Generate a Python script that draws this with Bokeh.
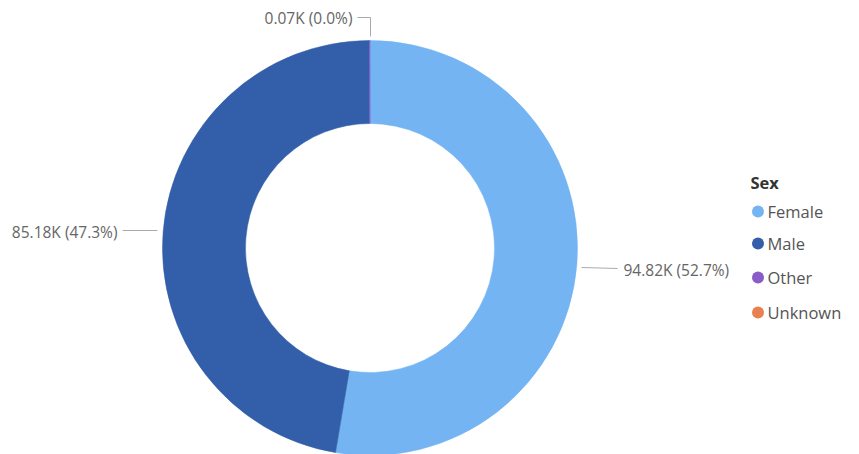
import math
from bokeh.plotting import figure
from bokeh.models import Range1d, ColumnDataSource
from bokeh.core.properties import value
from bokeh.embed import file_html
from bokeh.resources import INLINE

categories = ["Female", "Male", "Other", "Unknown"]
counts_k = [94.82, 85.18, 0.07, 0.0]
colors = ["#74B4F2", "#335FAA", "#8A5CC8", "#E8804F"]
legend_title = "Sex"

W, H = 859, 454
p = figure(width=W, height=H, output_backend="svg", toolbar_location=None,
           x_range=Range1d(0, W), y_range=Range1d(0, H),
           min_border=0, outline_line_color=None)
p.axis.visible = False
p.grid.visible = False
p.background_fill_color = "white"
p.border_fill_color = "white"

def Y(py):  # page pixel y -> data y
    return H - py

cx, cy = 369.5, Y(247.5)
r_out, r_in = 207.5, 124.5

total = sum(counts_k)
starts, ends, cols = [], [], []
acc = 0.0
for v, c in zip(counts_k, colors):
    a0 = math.pi / 2 - 2 * math.pi * acc / total
    acc += v
    a1 = math.pi / 2 - 2 * math.pi * acc / total
    if v > 0:
        starts.append(a0); ends.append(a1); cols.append(c)

src = ColumnDataSource(dict(start=starts, end=ends, color=cols))
p.annular_wedge(x=cx, y=cy, inner_radius=r_in, outer_radius=r_out,
                start_angle="start", end_angle="end", direction="clock",
                fill_color="color", line_color="color", line_width=0.5, source=src)

def lab(v):
    return f"{v:.2f}K ({100 * v / total:.1f}%)"

lab_color = "#666666"
font = value("Open Sans")
fs = "15.5px"
# Female (right)
p.line([581, 617], [Y(267), Y(268)], line_color="#AAAAAA", line_width=1)
p.text([623], [Y(269)], text=[lab(counts_k[0])], text_font=font, text_font_size=fs,
       text_color=lab_color, text_baseline="middle", text_align="left")
# Male (left)
p.line([157, 122], [Y(230), Y(230)], line_color="#AAAAAA", line_width=1)
p.text([117], [Y(231)], text=[lab(counts_k[1])], text_font=font, text_font_size=fs,
       text_color=lab_color, text_baseline="middle", text_align="right")
# Other (top)
p.line([370, 370, 357], [Y(36), Y(17), Y(17)], line_color="#AAAAAA", line_width=1)
p.text([352], [Y(17)], text=[lab(counts_k[2])], text_font=font, text_font_size=fs,
       text_color=lab_color, text_baseline="middle", text_align="right")

# legend
p.text([750], [Y(182)], text=[legend_title], text_font=font, text_font_size="16.5px",
       text_font_style="bold", text_color="#333333", text_baseline="middle")
ly = [Y(211), Y(243), Y(277), Y(312)]
p.scatter([757.5] * 4, ly, size=12, marker="circle", fill_color=colors, line_color=None)
p.text([767] * 4, ly, text=categories, text_font=font, text_font_size="16.5px",
       text_color="#555555", text_baseline="middle")

open("out.html", "w").write(file_html(p, INLINE))
